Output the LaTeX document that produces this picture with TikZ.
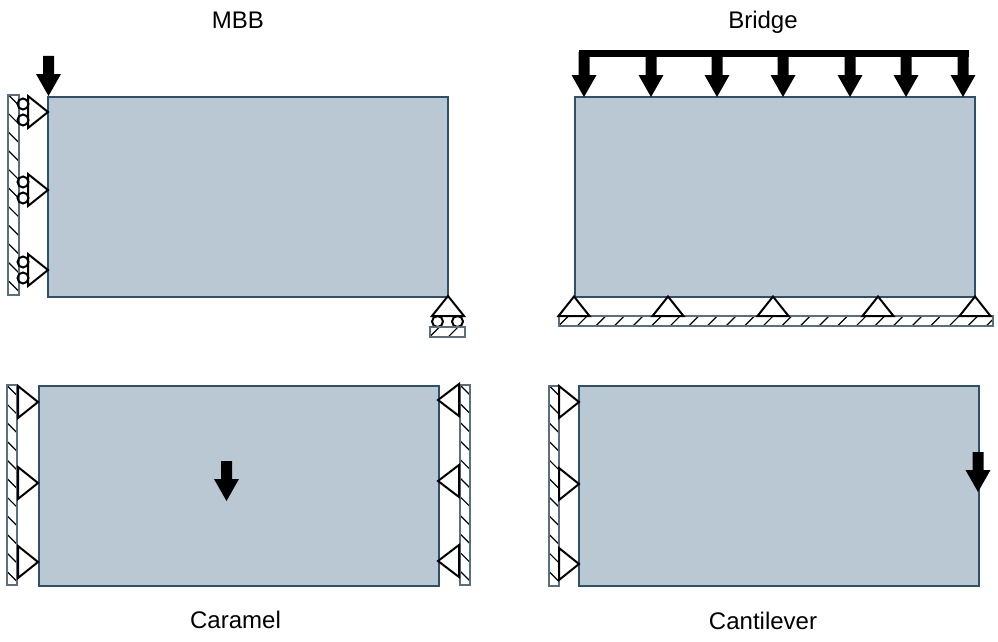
\documentclass[tikz,border=0pt]{standalone}
\usepackage{fontspec}
\setmainfont{Liberation Sans}
\definecolor{panelfill}{HTML}{BAC8D3}
\definecolor{panelline}{HTML}{2F5069}
\definecolor{barline}{HTML}{5A6E7E}
\tikzset{every picture/.style={line width=0.75pt}}
\tikzset{
  panel/.style={draw=panelline,fill=panelfill,line width=2pt,minimum width=400pt,minimum height=200pt,inner sep=0pt,outer sep=0pt},
  caption/.style={font=\fontsize{24}{28}\selectfont,inner sep=0pt,anchor=base},
  support/.style={draw=black,line width=2pt,line join=miter},
  roller/.style={draw=black,line width=2pt},
  barframe/.style={draw=barline,line width=2pt},
  hatchline/.style={draw=black,line width=1.2pt},
  load/.style={fill=black,draw=none}
}
% load arrow, tip at (#1,#2), tail #3 above the tip
\newcommand{\loadarrow}[3]{
  \fill[load] (#1-5.5,#2-#3) -- (#1+5.5,#2-#3) -- (#1+5.5,#2-22) -- (#1+12.5,#2-22)
    -- (#1,#2) -- (#1-12.5,#2-22) -- (#1-5.5,#2-22) -- cycle;
}
% upright bar, left x, right x, top y, bottom y
\newcommand{\uprightbar}[4]{
  \begin{scope}
    \clip (#1,#3) rectangle (#2,#4);
    \foreach \y in {0,18.6,...,200} {
      \draw[hatchline] (#1,#3+\y) -- (#2,#3+\y+#2-#1);
    }
  \end{scope}
  \draw[barframe] (#1,#3) rectangle (#2,#4);
}
% lying bar, left x, right x, top y, bottom y
\newcommand{\lyingbar}[4]{
  \begin{scope}
    \clip (#1,#3) rectangle (#2,#4);
    \foreach \x in {0,18.6,...,440} {
      \draw[hatchline] (#1+\x,#4) -- (#1+\x+#4-#3,#3);
    }
  \end{scope}
  \draw[barframe] (#1,#3) rectangle (#2,#4);
}
\begin{document}
\begin{tikzpicture}[x=1pt,y=-1pt]
  \useasboundingbox (0,0) rectangle (998,642);

  \node[caption] (mbblabel) at (238,29) {MBB};
  \node[caption] (bridgelabel) at (763,29) {Bridge};
  \node[caption] (caramellabel) at (235.5,628) {Caramel};
  \node[caption] (cantileverlabel) at (763,629) {Cantilever};

  % MBB
  \node[panel] (mbb) at (248,196.5) {};
  \uprightbar{8}{18.5}{94.5}{294.5}
  \foreach \y in {112,190,270} {
    \draw[support] (48,\y) -- (28,\y-16) -- (28,\y+16) -- cycle;
    \draw[roller] (23,\y-8) circle (5.5);
    \draw[roller] (23,\y+8) circle (5.5);
  }
  \draw[support] (448,296) -- (432,316) -- (464,316) -- cycle;
  \draw[roller] (437.5,321.5) circle (5.5);
  \draw[roller] (457.5,321.5) circle (5.5);
  \lyingbar{430}{465}{326.5}{336.5}
  \loadarrow{48.5}{96}{40}

  % Bridge
  \node[panel] (bridge) at (774.5,196.5) {};
  \lyingbar{558.5}{992.5}{316}{326}
  \foreach \x in {574,668,773,878,975} {
    \draw[support] (\x,296.5) -- (\x-15.5,316) -- (\x+15.5,316) -- cycle;
  }
  \fill[load] (578.5,50) rectangle (969,57);
  \foreach \x in {584,651,717,783,850,906,963} {
    \loadarrow{\x}{97}{45}
  }

  % Caramel
  \node[panel] (caramel) at (238.5,486) {};
  \uprightbar{6.5}{17}{385}{585}
  \uprightbar{459.5}{470}{384.5}{584.5}
  \foreach \y in {402,483,562} {
    \draw[support] (38,\y) -- (18,\y-16) -- (18,\y+16) -- cycle;
  }
  \foreach \y in {400,481,561} {
    \draw[support] (438,\y) -- (459,\y-16) -- (459,\y+16) -- cycle;
  }
  \loadarrow{226.5}{501}{40}

  % Cantilever
  \node[panel] (cantilever) at (778.5,486) {};
  \uprightbar{549}{559}{385.5}{586}
  \foreach \y in {402,484,564} {
    \draw[support] (579,\y) -- (559,\y-16) -- (559,\y+16) -- cycle;
  }
  \loadarrow{978}{492}{40}
\end{tikzpicture}
\end{document}
